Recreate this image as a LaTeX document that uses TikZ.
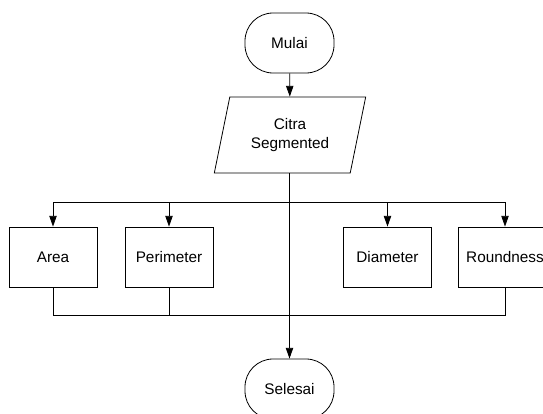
\documentclass[tikz,border=0pt]{standalone}
\usepackage{fontspec}
\setmainfont{Liberation Sans}
\usetikzlibrary{shapes.geometric,arrows.meta}
\tikzset{every node/.style={font=\fontsize{11.5}{14}\selectfont},
	startstop/.style={draw,rectangle,rounded corners=21pt,minimum width=66.75pt,minimum height=45pt},
	io/.style={draw,trapezium,trapezium left angle=75,trapezium right angle=105,
		trapezium stretches=true,minimum width=114pt,minimum height=57pt,align=center},
	process/.style={draw,rectangle,minimum width=66pt,minimum height=45pt},
	conn/.style={draw,line width=0.6pt,-{Triangle[length=8pt,width=5.5pt]}}}

\begin{document}
\begin{tikzpicture}[x=0.75pt,y=-0.75pt,line width=0.6pt]
\useasboundingbox (0,0) rectangle (543,414);
\node [startstop] (mulai) at (289.5,43) {Mulai};
\node [io] (citra) at (290,135) {Citra\\Segmented};
\node [process] (area) at (53,257) {Area};
\node [process] (perim) at (169,257) {Perimeter};
\node [process] (diam) at (387.5,257) {Diameter};
\node [process,minimum width=70pt] (round) at (505,257) {Roundness};
\node [startstop] (selesai) at (289.5,389) {Selesai};
\coordinate (split) at (289.5,202);
\coordinate (join) at (289.5,315);
% alur utama
\draw [conn] (mulai) -- (citra);
\draw [conn] (citra.south -| selesai) -- (selesai);
% cabang ke fitur
\draw [conn] (split) -| (area);
\draw [conn] (split) -| (perim);
\draw [conn] (split) -| (diam);
\draw [conn] (split) -| (round);
% gabung ke selesai
\draw (area) |- (join);
\draw (perim) |- (join);
\draw (round) |- (join);
\end{tikzpicture}
\end{document}
